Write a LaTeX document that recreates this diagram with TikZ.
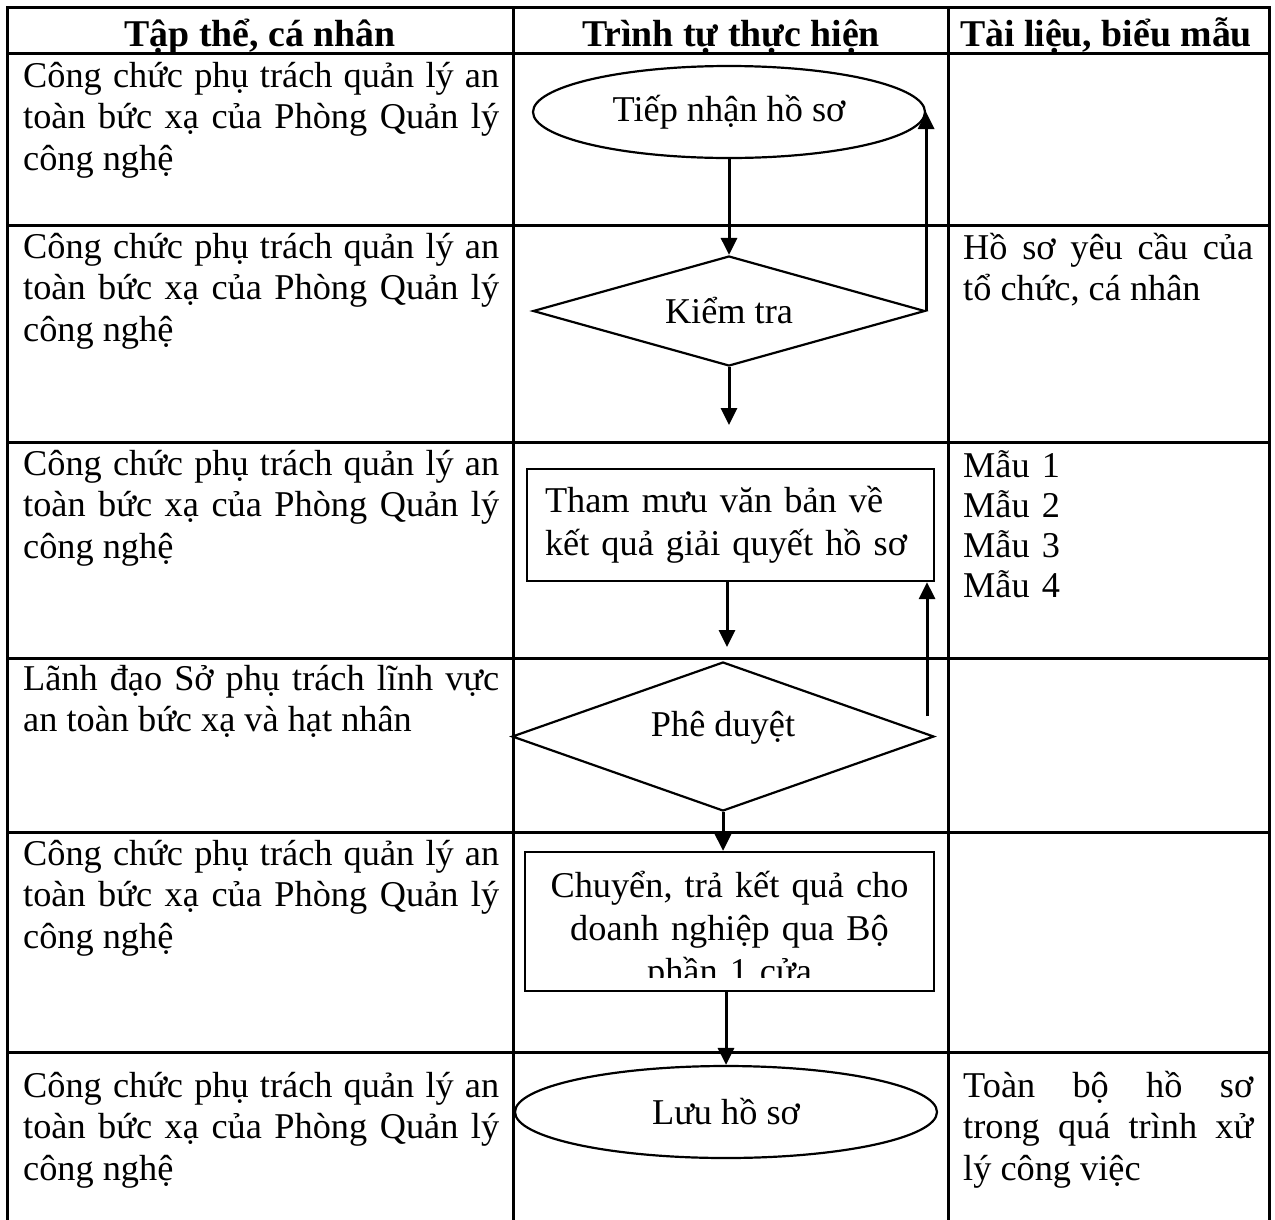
\documentclass[tikz,border=0pt]{standalone}
\usepackage{fontspec}
\setmainfont{Liberation Serif}
\usetikzlibrary{shapes.geometric,arrows.meta,positioning}
\newcommand{\congchuc}{Công chức phụ trách quản lý an\linebreak toàn bức xạ của Phòng Quản lý\linebreak công nghệ}
\begin{document}
\begin{tikzpicture}[x=1pt,y=-1pt]
	\tikzset{every node/.style = {font=\fontsize{36.3pt}{41.5pt}\selectfont}}
	\tikzset{grid/.style = {line width=3pt,line cap=rect}}
	\tikzset{head/.style = {anchor=base,inner sep=0pt,font=\fontsize{37.8pt}{41pt}\selectfont\bfseries}}
	\tikzset{who/.style = {anchor=base west,inner sep=0pt,text width=476pt,align=justify}}
	\tikzset{doc/.style = {anchor=base west,inner sep=0pt,text width=290pt,align=justify}}
	\tikzset{terminal/.style = {shape=ellipse,draw,line width=2.2pt,inner sep=0pt}}
	\tikzset{decision/.style = {shape=diamond,draw,line width=2.2pt,inner sep=0pt}}
	\tikzset{process/.style = {shape=rectangle,draw,line width=2.2pt,inner sep=0pt,font=\fontsize{36.3pt}{43pt}\selectfont}}
	\tikzset{edge/.style = {-{Triangle[length=17pt,width=16pt]},line width=3pt}}
	\useasboundingbox (0,0) rectangle (1275,1219);
	% table
	\draw[grid] (7,7) -- (1269,7);
	\foreach \y in {53,225,442,658,832,1052} \draw[grid] (7,\y) -- (1269,\y);
	\foreach \x in {7,513,948,1269} \draw[grid] (\x,7) -- (\x,1219);
	\node[head] (h1) at (260,46) {Tập thể, cá nhân};
	\node[head] (h2) at (731,46) {Trình tự thực hiện};
	\node[head] (h3) at (1106,46) {Tài liệu, biểu mẫu};
	% column 1
	\node[who] (r1) at (23,87) {\congchuc};
	\node[who] (r2) at (23,258) {\congchuc};
	\node[who] (r3) at (23,475) {\congchuc};
	\node[who] (r4) at (23,690) {Lãnh đạo Sở phụ trách lĩnh vực\linebreak an toàn bức xạ và hạt nhân};
	\node[who] (r5) at (23,865) {\congchuc};
	\node[who] (r6) at (23,1097) {\congchuc};
	% column 3
	\node[doc] (d2) at (963,259) {Hồ sơ yêu cầu của\linebreak tổ chức, cá nhân};
	\node[doc,align=left,font=\fontsize{36.3pt}{40pt}\selectfont] (d3) at (963,477) {Mẫu 1\\Mẫu 2\\Mẫu 3\\Mẫu 4};
	\node[doc] (d6) at (963,1097) {Toàn bộ hồ sơ\linebreak trong quá trình xử\linebreak lý công việc};
	% flow
	\node[terminal,minimum width=392pt,minimum height=92pt] (tiepnhan) at (729,112) {Tiếp nhận hồ sơ};
	\node[decision,aspect=3.56,minimum width=392pt,minimum height=110pt] (kiemtra) at (729,311) {Kiểm tra};
	\node[process,minimum width=407pt,minimum height=112pt,text width=371pt,align=left] (thammuu) at (730.5,525) {Tham mưu văn bản về\\kết quả giải quyết hồ sơ};
	\node[decision,aspect=2.83,minimum width=422pt,minimum height=149pt,text height=24pt,text depth=24pt] (pheduyet) at (723,736.5) {Phê duyệt};
	\node[process,minimum width=409pt,minimum height=139pt] (chuyen) at (729.5,921.5) {};
	\begin{scope}
		\clip (chuyen.north west) rectangle ([yshift=15pt]chuyen.south east);
		\node[anchor=base,inner sep=0pt,text width=400pt,align=center,font=\fontsize{36.3pt}{43pt}\selectfont] (chuyentxt) at (729.5,897) {Chuyển, trả kết quả cho\\doanh nghiệp qua Bộ\\phần 1 cửa};
	\end{scope}
	\node[terminal,minimum width=422pt,minimum height=92pt] (luu) at (726,1112) {Lưu hồ sơ};
	\coordinate (kiemtraout) at (729,425);
	\coordinate (thammuuout) at (727,647);
	\coordinate (pheduyetback) at (927,716);
	\draw[edge] (tiepnhan) -- (kiemtra);
	\draw[edge] (kiemtra) -- (kiemtraout);
	\draw[edge] (kiemtra.east) -- (kiemtra.east |- tiepnhan.east);
	\draw[edge] (thammuu.south -| thammuuout) -- (thammuuout);
	\draw[edge] (pheduyetback) -- (pheduyetback |- thammuu.south);
	\draw[edge] (pheduyet.south) -- (pheduyet.south |- chuyen.north);
	\draw[edge] (chuyen.south -| luu.north) -- (luu.north);
\end{tikzpicture}
\end{document}
